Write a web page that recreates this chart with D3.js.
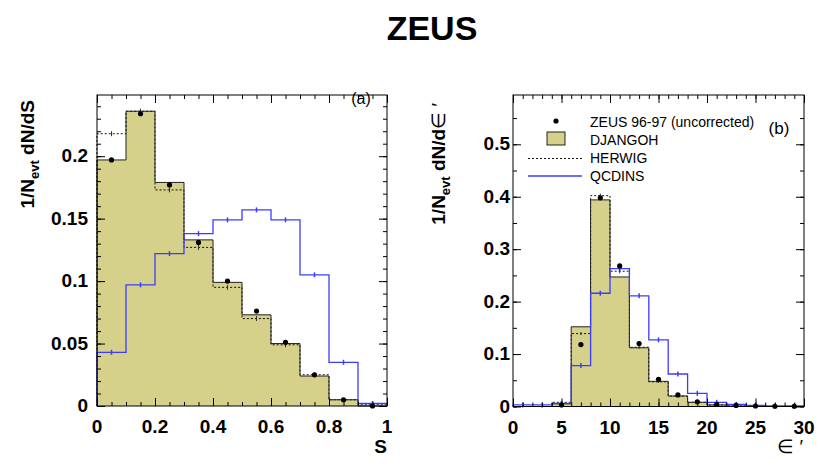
<!DOCTYPE html>
<html>
<head>
<meta charset="utf-8">
<script src="https://cdn.jsdelivr.net/npm/d3@7"></script>
<style>
  body { margin: 0; background: #fff; }
  svg text { font-family: "Liberation Sans", Arial, Helvetica, sans-serif; }
</style>
</head>
<body>
<div id="chart"></div>
<script>
// ---- data ----
var edgesS = [0, 0.1, 0.2, 0.3, 0.4, 0.5, 0.6, 0.7, 0.8, 0.9, 1.0];
var djangohS = [0.197, 0.236, 0.179, 0.133, 0.099, 0.073, 0.050, 0.024, 0.005, 0.000];
var herwigS  = [0.218, 0.236, 0.173, 0.127, 0.095, 0.070, 0.049, 0.025, 0.005, 0.001];
var qcdinsS  = [0.043, 0.097, 0.122, 0.138, 0.149, 0.157, 0.149, 0.105, 0.035, 0.002];
var zeusS    = [0.197, 0.234, 0.177, 0.131, 0.100, 0.076, 0.051, 0.025, 0.005, 0.000];
var mcErrS   = [0.002, 0.002, 0.002, 0.002, 0.002, 0.002, 0.002, 0.002, 0.001, 0.001];

var edgesE = [0, 2, 4, 6, 8, 10, 12, 14, 16, 18, 20, 22, 24, 26, 28, 30];
var djangohE = [0, 0, 0.005, 0.152, 0.394, 0.247, 0.112, 0.048, 0.020, 0.008, 0.003, 0.001, 0.0005, 0, 0];
var herwigE  = [0, 0, 0.008, 0.139, 0.402, 0.258, 0.113, 0.047, 0.020, 0.008, 0.003, 0.001, 0.0005, 0, 0];
var qcdinsE  = [0.003, 0.003, 0.006, 0.078, 0.216, 0.263, 0.211, 0.127, 0.062, 0.025, 0.008, 0.004, 0.002, 0.001, 0.001];
var zeusE    = [null, null, 0.003, 0.118, 0.398, 0.268, 0.120, 0.052, 0.022, 0.009, 0.004, 0.002, 0.001, 0.0005, 0.0005];
var mcErrE   = [0.001, 0.001, 0.001, 0.003, 0.004, 0.004, 0.003, 0.002, 0.002, 0.001, 0.001, 0.001, 0.001, 0.001, 0.001];

var ticksSy = [0, 0.05, 0.1, 0.15, 0.2];
var ticksSx = [0, 0.2, 0.4, 0.6, 0.8, 1];
var ticksEy = [0, 0.1, 0.2, 0.3, 0.4, 0.5];
var ticksEx = [0, 5, 10, 15, 20, 25, 30];

var legendLabels = ['ZEUS 96-97 (uncorrected)', 'DJANGOH', 'HERWIG', 'QCDINS'];

var fillColor = '#d5d08a';
var blue = '#3c3cff';

var W = 830, H = 467;
var svg = d3.select('#chart').append('svg')
    .attr('width', W).attr('height', H);

svg.append('text')
    .attr('x', 432).attr('y', 40)
    .attr('text-anchor', 'middle')
    .style('font-weight', 700).style('font-size', '34px')
    .text('ZEUS');

function range(a, b, step) {
    var out = [];
    for (var v = a; v <= b + 1e-9; v += step) out.push(+v.toFixed(6));
    return out;
}

function stepPoints(edges, vals) {
    var pts = [[edges[0], 0]];
    vals.forEach(function(v, i) {
        pts.push([edges[i], v]);
        pts.push([edges[i + 1], v]);
    });
    pts.push([edges[edges.length - 1], 0]);
    return pts;
}

function panel(opt) {
    var x = d3.scaleLinear().domain(opt.xDomain).range([opt.x0, opt.x1]);
    var y = d3.scaleLinear().domain(opt.yDomain).range([opt.y1, opt.y0]);
    var g = svg.append('g');
    var line = d3.line().x(function(d) { return x(d[0]); }).y(function(d) { return y(d[1]); });

    // DJANGOH filled histogram
    g.append('path')
        .attr('d', line(stepPoints(opt.edges, opt.djangoh)))
        .attr('fill', fillColor).attr('stroke', 'none');

    // HERWIG dashed
    g.append('path')
        .attr('d', line(stepPoints(opt.edges, opt.herwig)))
        .attr('fill', 'none').attr('stroke', '#111')
        .attr('stroke-width', 1).attr('stroke-dasharray', '2,2');

    // DJANGOH outline
    g.append('path')
        .attr('d', line(stepPoints(opt.edges, opt.djangoh)))
        .attr('fill', 'none').attr('stroke', '#222').attr('stroke-width', 1);

    // QCDINS
    g.append('path')
        .attr('d', line(stepPoints(opt.edges, opt.qcdins)))
        .attr('fill', 'none').attr('stroke', blue).attr('stroke-width', 1.3);

    var centers = opt.edges.slice(0, -1).map(function(e, i) { return (e + opt.edges[i + 1]) / 2; });

    g.selectAll('line.qerr').data(opt.qcdins).enter().append('line')
        .attr('x1', function(d, i) { return x(centers[i]); })
        .attr('x2', function(d, i) { return x(centers[i]); })
        .attr('y1', function(d, i) { return y(d) - 2.5; })
        .attr('y2', function(d, i) { return y(d) + 2.5; })
        .attr('stroke', blue).attr('stroke-width', 1.5);

    g.selectAll('line.herr').data(opt.herwig).enter().append('line')
        .attr('x1', function(d, i) { return x(centers[i]); })
        .attr('x2', function(d, i) { return x(centers[i]); })
        .attr('y1', function(d, i) { return y(d + opt.err[i]); })
        .attr('y2', function(d, i) { return y(d - opt.err[i]); })
        .attr('stroke', '#333').attr('stroke-width', 1);

    // ZEUS data points
    g.selectAll('circle.pt').data(opt.zeus.map(function(v, i) { return { v: v, c: centers[i] }; })
            .filter(function(d) { return d.v !== null; }))
        .enter().append('circle')
        .attr('cx', function(d) { return x(d.c); })
        .attr('cy', function(d) { return y(d.v); })
        .attr('r', 2.6).attr('fill', '#000');

    // frame
    g.append('rect')
        .attr('x', opt.x0).attr('y', opt.y0)
        .attr('width', opt.x1 - opt.x0).attr('height', opt.y1 - opt.y0)
        .attr('fill', 'none').attr('stroke', '#000').attr('stroke-width', 1);

    function ticks(axisFn, scale, vals, size, pos) {
        var a = g.append('g').attr('transform', pos)
            .call(axisFn(scale).tickValues(vals).tickSize(-size).tickFormat(''));
        a.select('.domain').remove();
        a.selectAll('line').attr('stroke', '#000');
    }
    // minor ticks
    ticks(d3.axisBottom, x, opt.xMinor, opt.minorLen, 'translate(0,' + opt.y1 + ')');
    ticks(d3.axisTop, x, opt.xMinor, opt.minorLen, 'translate(0,' + opt.y0 + ')');
    ticks(d3.axisLeft, y, opt.yMinor, opt.minorLen, 'translate(' + opt.x0 + ',0)');
    ticks(d3.axisRight, y, opt.yMinor, opt.minorLen, 'translate(' + opt.x1 + ',0)');
    // major ticks
    ticks(d3.axisBottom, x, opt.xTicks, opt.majorLen, 'translate(0,' + opt.y1 + ')');
    ticks(d3.axisTop, x, opt.xTicks, opt.majorLen, 'translate(0,' + opt.y0 + ')');
    ticks(d3.axisLeft, y, opt.yTicks, opt.majorLen, 'translate(' + opt.x0 + ',0)');
    ticks(d3.axisRight, y, opt.yTicks, opt.majorLen, 'translate(' + opt.x1 + ',0)');

    // tick labels
    g.selectAll('text.xl').data(opt.xTicks).enter().append('text')
        .attr('x', function(d) { return x(d); })
        .attr('y', opt.y1 + 27)
        .attr('text-anchor', 'middle')
        .style('font-weight', 700).style('font-size', '19px')
        .text(function(d) { return d3.format('')(d); });

    g.selectAll('text.yl').data(opt.yTicks).enter().append('text')
        .attr('x', opt.x0 - opt.yLabelGap)
        .attr('y', function(d) { return y(d) + 6; })
        .attr('text-anchor', 'end')
        .style('font-weight', 700).style('font-size', '19px')
        .text(function(d) { return d3.format('')(d); });

    return { g: g, x: x, y: y };
}

var pa = panel({
    x0: 97, x1: 387, y0: 95, y1: 406,
    xDomain: [0, 1], yDomain: [0, 0.249],
    edges: edgesS, djangoh: djangohS, herwig: herwigS, qcdins: qcdinsS, zeus: zeusS, err: mcErrS,
    xTicks: ticksSx, yTicks: ticksSy,
    xMinor: range(0, 1, 0.05), yMinor: range(0, 0.24, 0.01),
    majorLen: 8, minorLen: 4, yLabelGap: 9
});

var pb = panel({
    x0: 513, x1: 804, y0: 95, y1: 406.5,
    xDomain: [0, 30], yDomain: [0, 0.594],
    edges: edgesE, djangoh: djangohE, herwig: herwigE, qcdins: qcdinsE, zeus: zeusE, err: mcErrE,
    xTicks: ticksEx, yTicks: ticksEy,
    xMinor: range(0, 30, 1), yMinor: range(0, 0.55, 0.05),
    majorLen: 8, minorLen: 4, yLabelGap: 3
});

// axis titles
svg.append('text')
    .attr('x', 387).attr('y', 453).attr('text-anchor', 'end')
    .style('font-weight', 700).style('font-size', '19px').text('S');

svg.append('text')
    .attr('x', 803).attr('y', 453).attr('text-anchor', 'end')
    .style('font-size', '19px').text('∈ ′');

function yTitle(xPos, yTop, last, lastBold) {
    var t = svg.append('text')
        .attr('transform', 'translate(' + xPos + ',' + yTop + ') rotate(-90)')
        .attr('text-anchor', 'end')
        .style('font-weight', 700).style('font-size', '19px');
    t.append('tspan').text('1/N');
    t.append('tspan').attr('dy', 5).style('font-size', '13px').text('evt');
    t.append('tspan').attr('dy', -5).text(' dN/d');
    t.append('tspan').style('font-weight', lastBold ? 700 : 400).text(last);
}
yTitle(34, 100, 'S', true);
yTitle(445, 103, '∈ ′', false);

// panel labels
svg.append('text').attr('x', 361).attr('y', 104).attr('text-anchor', 'middle')
    .style('font-size', '16px').text('(a)');
svg.append('text').attr('x', 779).attr('y', 134).attr('text-anchor', 'middle')
    .style('font-size', '17px').text('(b)');

// legend
var leg = svg.append('g');
leg.append('circle').attr('cx', 556).attr('cy', 121).attr('r', 2.6).attr('fill', '#000');
leg.append('rect').attr('x', 547).attr('y', 132).attr('width', 18).attr('height', 13)
    .attr('fill', fillColor).attr('stroke', '#222').attr('stroke-width', 1);
leg.append('line').attr('x1', 528).attr('x2', 582).attr('y1', 158.5).attr('y2', 158.5)
    .attr('stroke', '#111').attr('stroke-dasharray', '2,2');
leg.append('line').attr('x1', 528).attr('x2', 582).attr('y1', 176).attr('y2', 176)
    .attr('stroke', blue).attr('stroke-width', 1.3);
leg.selectAll('text').data(legendLabels).enter().append('text')
    .attr('x', 590)
    .attr('y', function(d, i) { return 127 + i * 18; })
    .style('font-size', '14px')
    .text(function(d) { return d; });
</script>
</body>
</html>
